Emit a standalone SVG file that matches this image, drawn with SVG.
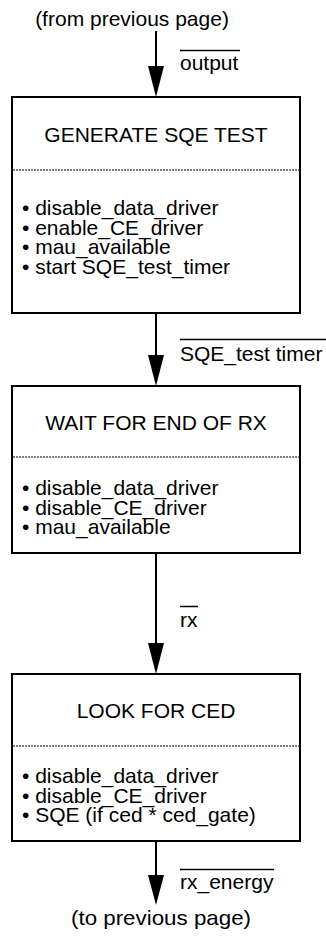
<svg xmlns="http://www.w3.org/2000/svg" width="326" height="942" viewBox="0 0 326 942">
<style>
text{font-family:"Liberation Sans",Arial,sans-serif;font-size:21px;fill:#000}
.box{fill:#fff;stroke:#000;stroke-width:2}
.sep{stroke:#000;stroke-width:1;stroke-dasharray:2 1}
.ln{stroke:#000;stroke-width:2;fill:none}
.ov{stroke:#000;stroke-width:1.5}
.head{fill:#000}
.t{text-anchor:middle}
</style>
<rect width="326" height="942" fill="#fff"/>
<g id="connectors">
<line class="ln" x1="156" y1="31" x2="156" y2="68"/>
<polygon class="head" points="148,66 164,66 156,97"/>
<line class="ln" x1="156" y1="313" x2="156" y2="357"/>
<polygon class="head" points="148,355 164,355 156,386"/>
<line class="ln" x1="156" y1="553" x2="156" y2="645"/>
<polygon class="head" points="148,643 164,643 156,674"/>
<line class="ln" x1="156" y1="841" x2="156" y2="877"/>
<polygon class="head" points="148,875 164,875 156,905"/>
<line class="ov" x1="180" y1="50.5" x2="240" y2="50.5"/>
<text x="180" y="70">output</text>
<line class="ov" x1="180" y1="339.5" x2="326" y2="339.5"/>
<text x="180" y="361">SQE_test timer</text>
<line class="ov" x1="180" y1="606.5" x2="198" y2="606.5"/>
<text x="180" y="627">rx</text>
<line class="ov" x1="180" y1="869.5" x2="274" y2="869.5"/>
<text x="180" y="889">rx_energy</text>
</g>
<g id="from-label"><text class="t" x="132" y="26">(from previous page)</text></g>
<g id="generate-sqe-test">
<rect class="box" x="12" y="97" width="288" height="216"/>
<text class="t" x="156" y="142">GENERATE SQE TEST</text>
<line class="sep" x1="13" y1="170" x2="299" y2="170"/>
<text x="22" y="215">• disable_data_driver</text>
<text x="22" y="234.5">• enable_CE_driver</text>
<text x="22" y="254">• mau_available</text>
<text x="22" y="273.5">• start SQE_test_timer</text>
</g>
<g id="wait-for-end-of-rx">
<rect class="box" x="12" y="386" width="288" height="167"/>
<text class="t" x="156" y="430">WAIT FOR END OF RX</text>
<line class="sep" x1="13" y1="457" x2="299" y2="457"/>
<text x="22" y="495">• disable_data_driver</text>
<text x="22" y="514.5">• disable_CE_driver</text>
<text x="22" y="534">• mau_available</text>
</g>
<g id="look-for-ced">
<rect class="box" x="12" y="674" width="288" height="167"/>
<text class="t" x="156" y="718">LOOK FOR CED</text>
<line class="sep" x1="13" y1="746" x2="299" y2="746"/>
<text x="22" y="783">• disable_data_driver</text>
<text x="22" y="802.5">• disable_CE_driver</text>
<text x="22" y="822">• SQE (if ced * ced_gate)</text>
</g>
<g id="to-label"><text class="t" x="161" y="925" textLength="180" lengthAdjust="spacingAndGlyphs">(to previous page)</text></g>
</svg>
